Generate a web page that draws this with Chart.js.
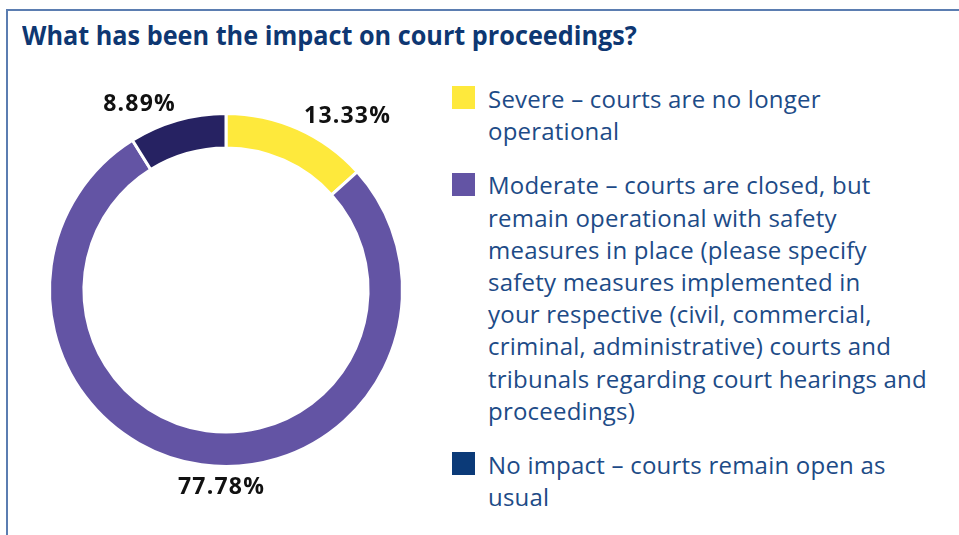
<!DOCTYPE html>
<html>
<head>
<meta charset="utf-8">
<script src="https://cdn.jsdelivr.net/npm/chart.js@4"></script>
<style>
  html, body { margin: 0; padding: 0; background: #fff; width: 959px; height: 535px; overflow: hidden; }
  #frame { position: absolute; left: 6px; top: 9px; width: 1100px; height: 700px;
           border-left: 2px solid #5B7DB1; border-top: 2px solid #5B7DB1; }
  #title { position: absolute; left: 22px; top: 21px; font-family: "Open Sans", sans-serif;
           font-weight: 700; font-size: 27px; line-height: 27px; color: #0E3772; white-space: nowrap;
           transform: scaleX(0.935); transform-origin: 0 0; }
  #chartWrap { position: absolute; left: 0; top: 60px; width: 452px; height: 460px; }
  #legend { position: absolute; left: 452px; top: 83px; font-family: "Open Sans", sans-serif;
            font-size: 24px; letter-spacing: 0.22px; color: #1D4B87; line-height: 32.2px; }
  .item { position: relative; padding-left: 36px; margin-bottom: 22px; white-space: nowrap; }
  .sw { position: absolute; left: 0; top: 3.4px; width: 23px; height: 23px; }
</style>
</head>
<body>
<div id="frame"></div>
<div id="title">What has been the impact on court proceedings?</div>
<div id="chartWrap"><canvas id="c"></canvas></div>
<div id="legend"></div>
<script>
// ---- data ----
const categories = [
  ["Severe – courts are no longer", "operational"],
  ["Moderate – courts are closed, but", "remain operational with safety", "measures in place (please specify", "safety measures implemented in", "your respective (civil, commercial,", "criminal, administrative) courts and", "tribunals regarding court hearings and", "proceedings)"],
  ["No impact – courts remain open as", "usual"]
];
const shares = [13.33, 77.78, 8.89];
const percentLabels = ["13.33%", "77.78%", "8.89%"];

// ---- styles ----
const sliceColors = ["#FEE93C", "#6354A4", "#262262"];
const legendColors = ["#FEE93C", "#6354A4", "#0B3A78"];
const labelAngleShift = [11.1, -6.7, -9.0]; // degrees, nudges for label placement
const labelGap = [35, 21, 28];              // px beyond the outer radius

const pctLabels = {
  id: 'pctLabels',
  afterDatasetsDraw(chart) {
    const ctx = chart.ctx;
    const meta = chart.getDatasetMeta(0);
    ctx.save();
    ctx.font = "700 23px 'Open Sans', sans-serif";
    ctx.fillStyle = "#111";
    ctx.textAlign = "center";
    ctx.textBaseline = "middle";
    if ('letterSpacing' in ctx) ctx.letterSpacing = "1.2px";
    meta.data.forEach((arc, i) => {
      const p = arc.getProps(['x', 'y', 'startAngle', 'endAngle', 'outerRadius'], true);
      const mid = (p.startAngle + p.endAngle) / 2 + labelAngleShift[i] * Math.PI / 180;
      const r = p.outerRadius + labelGap[i];
      ctx.fillText(percentLabels[i], p.x + Math.cos(mid) * r, p.y + Math.sin(mid) * r);
    });
    ctx.restore();
  }
};

const chart = new Chart(document.getElementById('c'), {
  type: 'doughnut',
  data: {
    labels: categories,
    datasets: [{
      data: shares,
      backgroundColor: sliceColors,
      borderColor: '#ffffff',
      borderWidth: 3,
      hoverOffset: 0
    }]
  },
  options: {
    responsive: true,
    maintainAspectRatio: false,
    animation: false,
    cutout: '80.5%',
    layout: { padding: { left: 48, right: 48, top: 52, bottom: 52 } },
    plugins: { legend: { display: false }, tooltip: { enabled: false } }
  },
  plugins: [pctLabels]
});

// HTML legend built from chart data
const legend = document.getElementById('legend');
chart.data.labels.forEach((lines, i) => {
  const item = document.createElement('div');
  item.className = 'item';
  const sw = document.createElement('span');
  sw.className = 'sw';
  sw.style.background = legendColors[i];
  item.appendChild(sw);
  const txt = document.createElement('div');
  txt.innerHTML = lines.join('<br>');
  item.appendChild(txt);
  legend.appendChild(item);
});
</script>
</body>
</html>
